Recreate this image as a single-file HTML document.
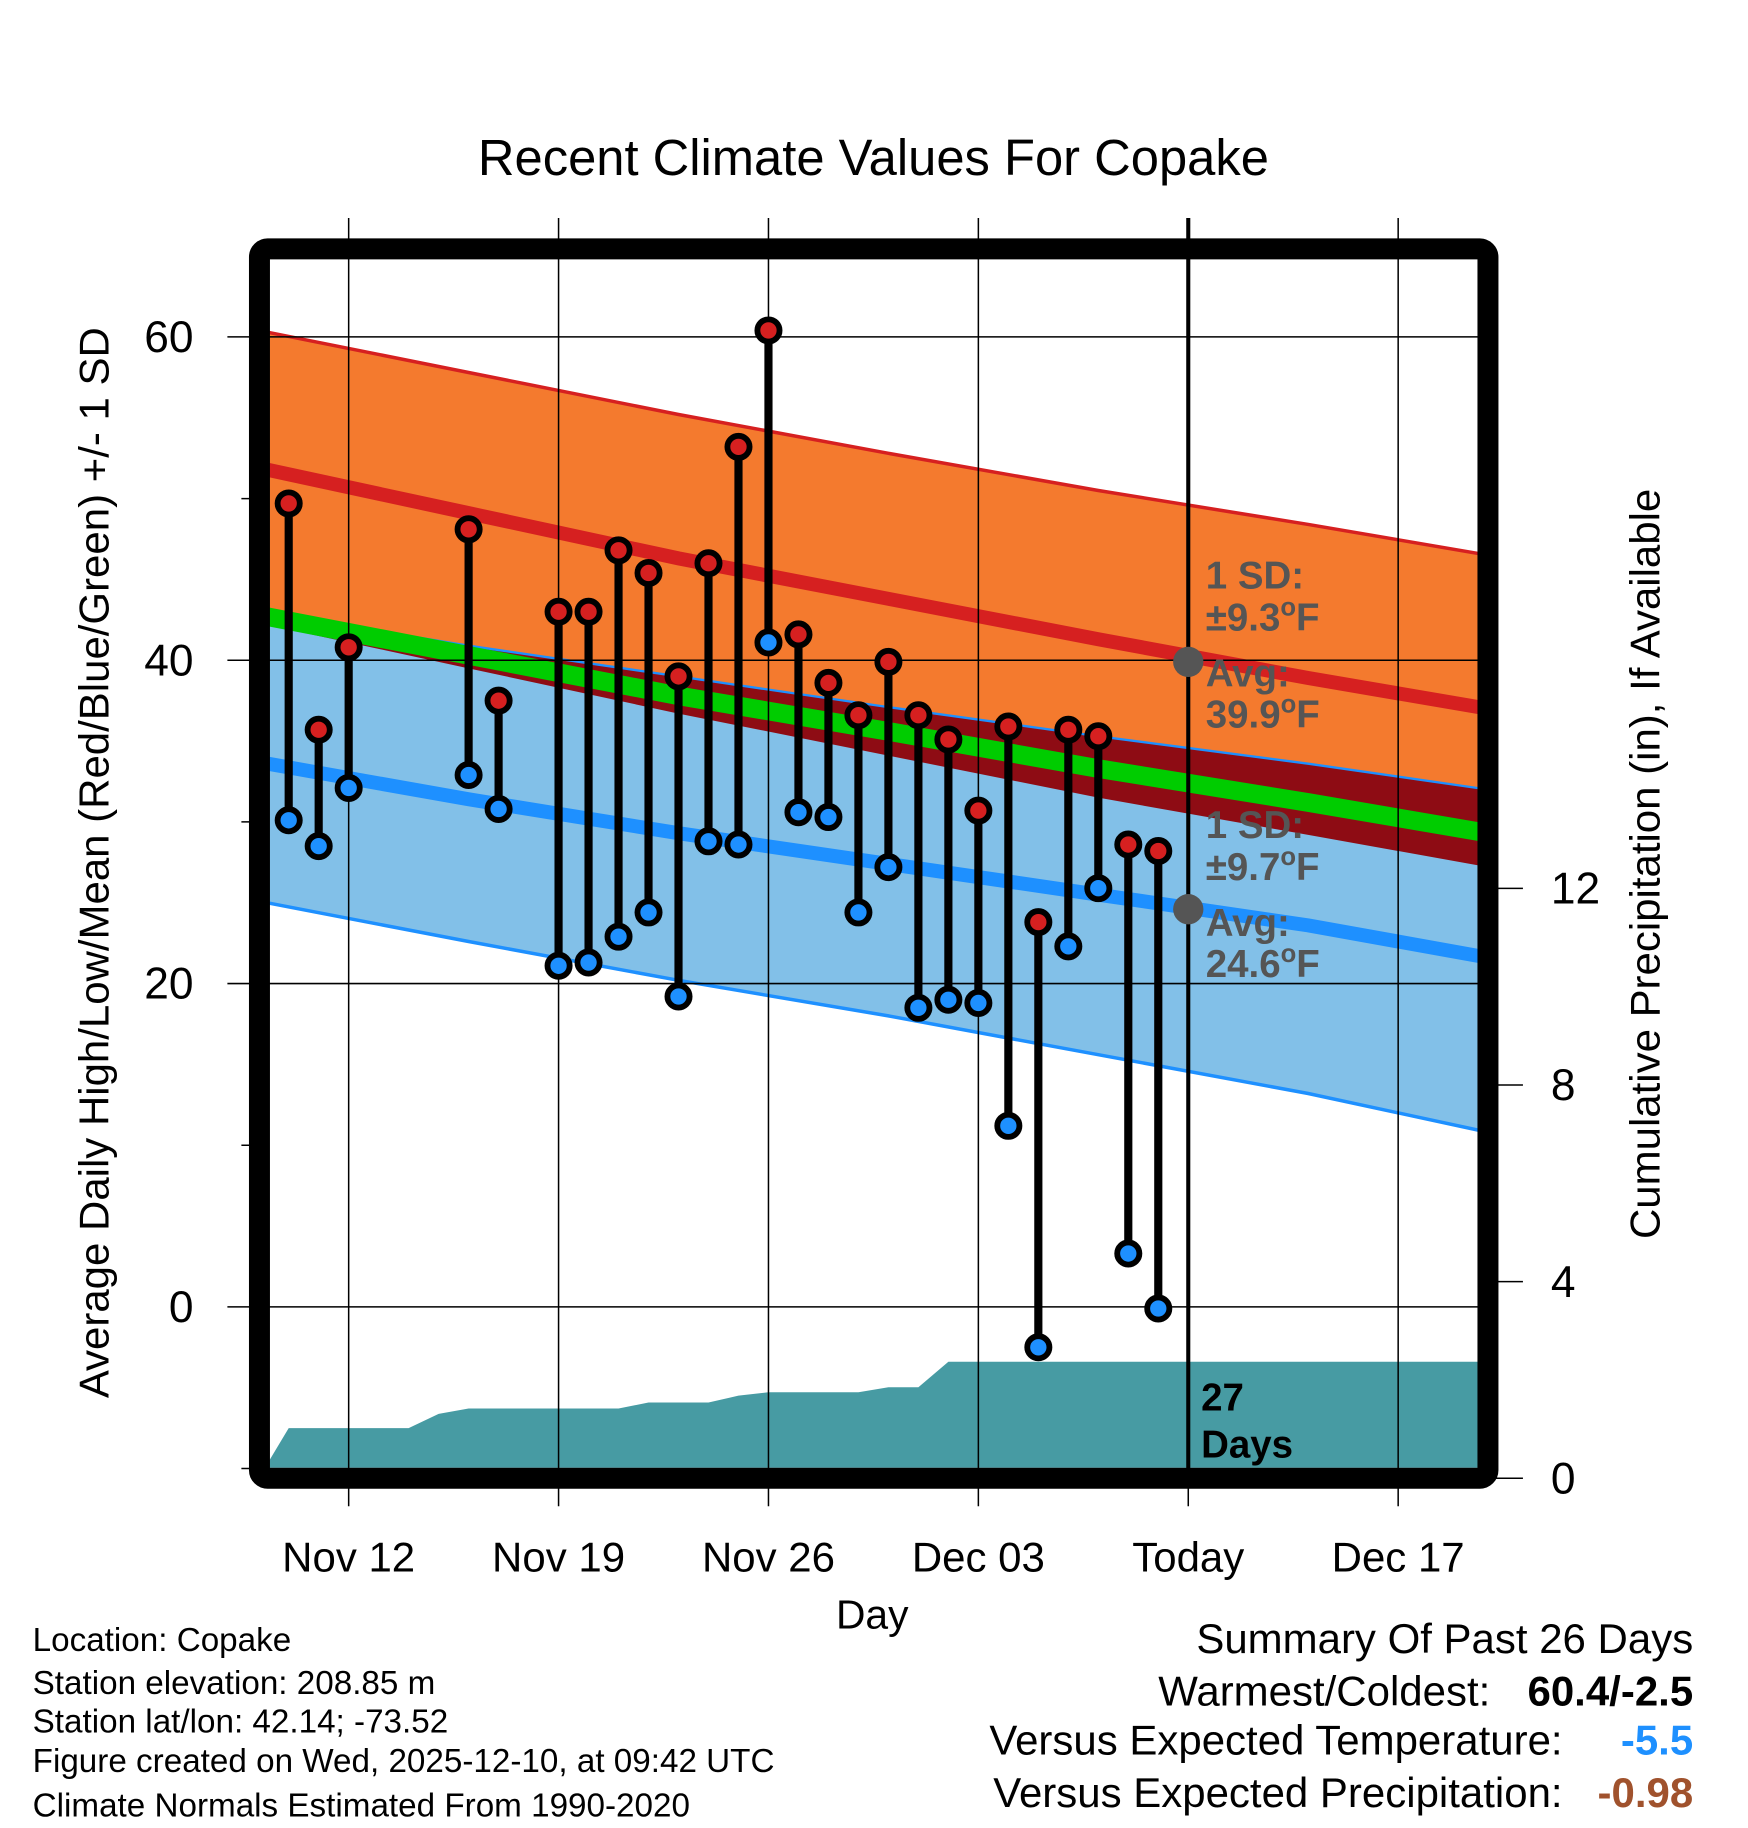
<!DOCTYPE html>
<html><head><meta charset="utf-8"><style>
html,body{margin:0;padding:0;background:#fff;}
svg{display:block;font-family:"Liberation Sans",Arial,sans-serif;}
</style></head><body>
<svg id="chart" width="1748" height="1828" viewBox="0 0 1499 1568" preserveAspectRatio="none" xmlns="http://www.w3.org/2000/svg">
<defs><clipPath id="plotclip"><rect x="231" y="223" width="1037" height="1036"/></clipPath></defs>
<text x="749" y="150" font-size="43.5" text-anchor="middle">Recent Climate Values For Copake</text>
<g id="fills" clip-path="url(#plotclip)"></g>
<g id="grid"></g>
<g id="marks"></g>
<g id="annot"></g>
<rect x="222.5" y="213.5" width="1053.5" height="1054.5" rx="7" fill="none" stroke="#000" stroke-width="18"/>
<g id="axes"></g>
<text x="748" y="1397" font-size="35" text-anchor="middle">Day</text>
<text transform="translate(93,740) rotate(-90)" font-size="36" text-anchor="middle">Average Daily High/Low/Mean (Red/Blue/Green) +/- 1 SD</text>
<text transform="translate(1423,741) rotate(-90)" font-size="36" text-anchor="middle">Cumulative Precipitation (in), If Available</text>
<g font-size="28.5">
<text x="28" y="1416">Location: Copake</text>
<text x="28" y="1453">Station elevation: 208.85 m</text>
<text x="28" y="1486">Station lat/lon: 42.14; -73.52</text>
<text x="28" y="1520">Figure created on Wed, 2025-12-10, at 09:42 UTC</text>
<text x="28" y="1558">Climate Normals Estimated From 1990-2020</text>
</g>
<g font-size="36">
<text x="1452" y="1418" text-anchor="end">Summary Of Past 26 Days</text>
<text x="1278" y="1463" text-anchor="end">Warmest/Coldest:</text>
<text x="1452" y="1463" text-anchor="end" font-weight="bold">60.4/-2.5</text>
<text x="1340" y="1505" text-anchor="end">Versus Expected Temperature:</text>
<text x="1452" y="1505" text-anchor="end" font-weight="bold" fill="#1e90ff">-5.5</text>
<text x="1340" y="1550" text-anchor="end">Versus Expected Precipitation:</text>
<text x="1452" y="1550" text-anchor="end" font-weight="bold" fill="#a0522d">-0.98</text>
</g>
</svg>
<script>
// days relative to Nov 12
const normDays = [-3, 4, 11, 18, 25, 32, 38];
const hiUpper = [60.4, 57.8, 55.2, 52.8, 50.5, 48.4, 46.5];
const hiMean  = [51.9, 49.1, 46.3, 43.8, 41.3, 38.9, 37.0];
const hiLower = [42.3, 39.5, 36.7, 34.1, 31.5, 29.2, 27.2];
const loUpper = [43.0, 40.9, 39.0, 37.1, 35.3, 33.6, 32.0];
const loMean  = [33.7, 31.4, 29.3, 27.4, 25.5, 23.6, 21.6];
const loLower = [25.1, 22.6, 20.2, 18.0, 15.6, 13.2, 10.8];
const avgMean = [42.8, 40.3, 37.8, 35.6, 33.3, 31.2, 29.3];
const obsDays = [-2,-1,0,4,5,7,8,9,10,11,12,13,14,15,16,17,18,19,20,21,22,23,24,25,26,27];
const obsHigh = [49.7,35.7,40.8,48.1,37.5,43.0,43.0,46.8,45.4,39.0,46.0,53.2,60.4,41.6,38.6,36.6,39.9,36.6,35.1,30.7,35.9,23.8,35.7,35.3,28.6,28.2];
const obsLow  = [30.1,28.5,32.1,32.9,30.8,21.1,21.3,22.9,24.4,19.2,28.8,28.6,41.1,30.6,30.3,24.4,27.2,18.5,19.0,18.8,11.2,-2.5,22.3,25.9,3.3,-0.1];
const precipDays = [-3,-2,2,3,4,9,10,12,13,14,17,18,19,20,38];
const precipVals = [0,1.02,1.02,1.31,1.42,1.42,1.54,1.54,1.68,1.75,1.75,1.85,1.85,2.37,2.37];
const xTickDays = [0,7,14,21,28,35];
const xTickLabels = ["Nov 12","Nov 19","Nov 26","Dec 03","Today","Dec 17"];
const yTicks = [0,20,40,60];
const yMinor = [-10,10,30,50];
const y2Ticks = [0,4,8,12];
const todayDay = 28;
const todayHiAvg = 39.9, todayLoAvg = 24.6;

const NS="http://www.w3.org/2000/svg";
const X = d => 299 + d*180/7;
const Y = t => 1121 - t*(1121-289)/60;
const YP = p => 1268 - p*(1268-762)/12;
function mk(tag, attrs, parent){const e=document.createElementNS(NS,tag);for(const k in attrs)e.setAttribute(k,attrs[k]);parent.appendChild(e);return e;}
function pts(arr){return normDays.map((d,i)=>X(d)+","+Y(arr[i])).join(" ");}
function band(up,lo){return normDays.map((d,i)=>X(d)+","+Y(up[i])).concat(normDays.slice().reverse().map((d,j)=>{const i=normDays.length-1-j;return X(d)+","+Y(lo[i]);})).join(" ");}
const fills=document.getElementById('fills');
let e;
e=mk('polygon',{points:band(hiUpper,hiLower),fill:'#f47a2e'},fills);


e=mk('polygon',{points:band(loUpper,loLower),fill:'#82c0e8'},fills);


e=mk('polygon',{points:band(loUpper,hiLower),fill:'#8e0c14'},fills);


e=mk('polyline',{points:pts(hiUpper),fill:'none',stroke:'#d62020','stroke-width':3},fills);


e=mk('polyline',{points:pts(loUpper),fill:'none',stroke:'#1e90ff','stroke-width':2},fills);


e=mk('polyline',{points:pts(loLower),fill:'none',stroke:'#1e90ff','stroke-width':3},fills);


e=mk('polyline',{points:pts(avgMean),fill:'none',stroke:'#00cc00','stroke-width':16},fills);


e=mk('polyline',{points:pts(hiMean),fill:'none',stroke:'#d62020','stroke-width':12},fills);


e=mk('polyline',{points:pts(loMean),fill:'none',stroke:'#1e90ff','stroke-width':12},fills);


// precipitation area
let pp=precipDays.map((d,i)=>X(d)+","+YP(precipVals[i]));
pp.push(X(precipDays[precipDays.length-1])+","+YP(0));
pp.push(X(precipDays[0])+","+YP(0));
e=mk('polygon',{points:pp.join(" "),fill:'#479ba3'},fills);



const grid=document.getElementById('grid');
const axes=document.getElementById('axes');
xTickDays.forEach((d,i)=>{
  e=mk('line',{x1:X(d),x2:X(d),y1:187,y2:1292,stroke:'#000','stroke-width':1.3},grid);
  
  
  e=mk('text',{x:X(d),y:1348,'font-size':36,'text-anchor':'middle'},axes);
  
  
  e.textContent=xTickLabels[i];
});
yTicks.forEach(t=>{
  e=mk('line',{x1:195,x2:1268,y1:Y(t),y2:Y(t),stroke:'#000','stroke-width':1.3},grid);
  
  
  e=mk('text',{x:166,y:Y(t)+13,'font-size':38,'text-anchor':'end'},axes);
  
  
  e.textContent=String(t);
});
yMinor.forEach(t=>{
  e=mk('line',{x1:207,x2:222,y1:Y(t),y2:Y(t),stroke:'#000','stroke-width':1.3},grid);
  
  
});
y2Ticks.forEach(p=>{
  e=mk('line',{x1:1276,x2:1306,y1:YP(p),y2:YP(p),stroke:'#000','stroke-width':1.3},grid);
  
  
  e=mk('text',{x:1330,y:YP(p)+13,'font-size':38},axes);
  
  
  e.textContent=String(p);
});
e=mk('line',{x1:X(todayDay),x2:X(todayDay),y1:187,y2:1262,stroke:'#000','stroke-width':3.5},grid);



const marks=document.getElementById('marks');
obsDays.forEach((d,i)=>{
  e=mk('line',{x1:X(d),x2:X(d),y1:Y(obsHigh[i]),y2:Y(obsLow[i]),stroke:'#000','stroke-width':7},marks);
  
  
});
obsDays.forEach((d,i)=>{
  e=mk('circle',{cx:X(d),cy:Y(obsHigh[i]),r:9.5,fill:'#d62020',stroke:'#000','stroke-width':5},marks);
  
  
  e=mk('circle',{cx:X(d),cy:Y(obsLow[i]),r:9.5,fill:'#1e90ff',stroke:'#000','stroke-width':5},marks);
  
  
});

const annot=document.getElementById('annot');
[todayHiAvg,todayLoAvg].forEach(v=>{
  e=mk('circle',{cx:X(todayDay),cy:Y(v),r:13,fill:'#555'},annot);
  
  
});
function lbl(y,html,color,name){
  e=mk('text',{x:1034,y:y,'font-size':33,'font-weight':'bold',fill:color},annot);
  
  
  e.innerHTML=html;
}
const sup='<tspan dy="-13" font-size="22">o</tspan><tspan dy="13">F</tspan>';
lbl(505,'1 SD:','#555','high-sd-label');
lbl(541,'±9.3'+sup,'#555','high-sd-value');
lbl(589,'Avg:','#555','high-avg-label');
lbl(624,'39.9'+sup,'#555','high-avg-value');
lbl(719,'1 SD:','#555','low-sd-label');
lbl(755,'±9.7'+sup,'#555','low-sd-value');
lbl(803,'Avg:','#555','low-avg-label');
lbl(838,'24.6'+sup,'#555','low-avg-value');
e=mk('text',{x:1030,y:1210,'font-size':33,'font-weight':'bold'},annot);


e.textContent='27';
e=mk('text',{x:1030,y:1250,'font-size':33,'font-weight':'bold'},annot);


e.textContent='Days';
</script>
</body></html>
